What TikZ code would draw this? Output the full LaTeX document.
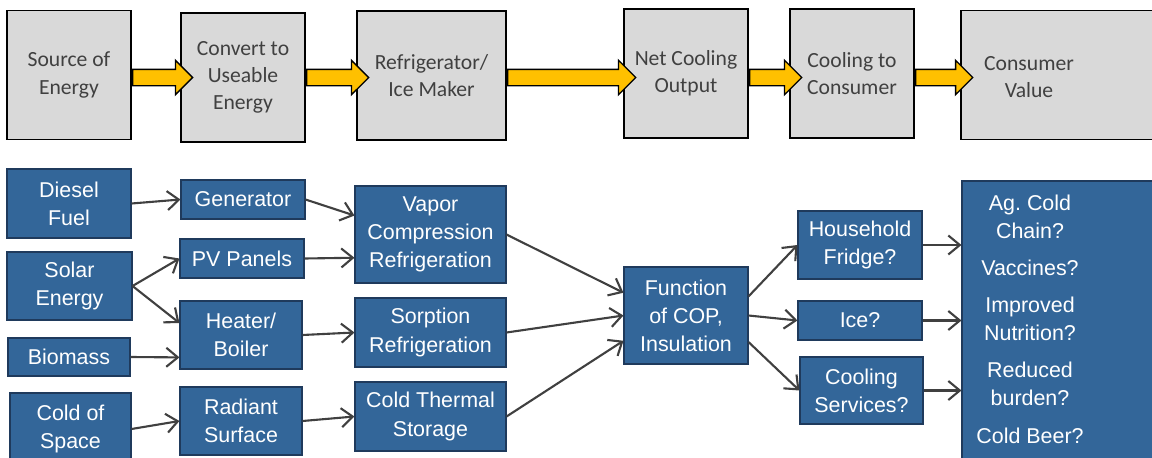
\documentclass[tikz,border=0pt]{standalone}
\usepackage{fontspec}
\setmainfont{Liberation Sans}
\newfontfamily\calibri{Carlito}
\usetikzlibrary{
  arrows.meta,
  calc,
  shapes.arrows
}
\definecolor{cinza}{HTML}{D9D9D9}
\definecolor{texto}{HTML}{404040}
\definecolor{azulcx}{HTML}{336699}
\definecolor{azulbd}{HTML}{1F3A5C}
\definecolor{amarelo}{HTML}{FFC000}
\definecolor{linha}{HTML}{404040}

\begin{document}
\frenchspacing
\begin{tikzpicture}[
    etapa/.style={
    draw=black,
    line width=1.1pt,
    fill=cinza,
    text=texto,
    align=center,
    inner sep=0pt,
    minimum width=2.48cm,
    minimum height=2.58cm,
    font=\calibri\fontsize{12.3}{15.5}\selectfont
    },
    bloco/.style={
    draw=azulbd,
    line width=0.6pt,
    fill=azulcx,
    text=white,
    align=center,
    inner sep=0pt,
    minimum width=2.48cm,
    font=\fontsize{12.2}{16}\selectfont
    },
    flecha/.style={
    single arrow,
    draw=black,
    line width=0.8pt,
    fill=amarelo,
    inner xsep=0pt,
    inner ysep=0.15cm,
    single arrow head extend=0.18cm,
    single arrow head indent=0pt
    },
    seta/.style={-{Straight Barb[length=2.3mm,width=3.8mm]},line width=1.2pt,draw=linha}
    ]
    
    \clip (0,0) rectangle (23.04,9.14);
    
    % etapas
    \node[etapa] (source) at (1.38,7.64)
    {Source of\\Energy};
    
    \node[etapa] (convert) at (4.86,7.59)
    {Convert to\\Useable\\Energy};
    
    \node[etapa, minimum width=2.98cm] (refrig) at (8.63,7.63)
    {Refrigerator/\\Ice Maker};
    
    \node[etapa] (netcool) at (13.72,7.67)
    {Net Cooling\\Output};
    
    \node[etapa] (tocons) at (17.04,7.67)
    {Cooling to\\Consumer};
    
    \node[etapa, minimum width=3.98cm] (consval) at (21.21,7.64) {};
    \node[text=texto, align=center, font=\calibri\fontsize{12.3}{15.5}\selectfont]
    (consvaltxt) at (20.58,7.6) {Consumer\\Value};
    
    \foreach \a/\b in {source/convert, convert/refrig, refrig/netcool, netcool/tocons, tocons/consval}
    \path let \p1=(\a.east), \p2=(\b.west) in
    node[flecha, anchor=tail, minimum height={\x2-\x1+0.24cm}] at (\x1,7.59) {};
    
    % fontes
    \node[bloco, minimum height=1.38cm] (diesel) at (1.38,5.07)
    {Diesel\\Fuel};
    
    \node[bloco, minimum width=2.50cm, minimum height=1.36cm] (solar) at (1.39,3.42)
    {Solar\\Energy};
    
    \node[bloco, minimum width=2.44cm, minimum height=0.76cm] (biomass) at (1.38,2.00)
    {Biomass};
    
    \node[bloco, minimum width=2.42cm, minimum height=1.44cm] (space) at (1.41,0.56)
    {Cold of\\Space};
    
    % conversao
    \node[bloco, minimum height=0.78cm] (gen) at (4.86,5.15)
    {Generator};
    
    \node[bloco, minimum height=0.78cm] (pv) at (4.84,3.97)
    {PV Panels};
    
    \node[bloco, minimum width=2.44cm, minimum height=1.36cm] (heater) at (4.82,2.44)
    {Heater/\\Boiler};
    
    \node[bloco, minimum width=2.44cm, minimum height=1.36cm] (radiant) at (4.82,0.72)
    {Radiant\\Surface};
    
    % refrigeracao
    \node[bloco, minimum width=3.02cm, minimum height=1.94cm] (vapor) at (8.61,4.45)
    {Vapor\\Compression\\Refrigeration};
    
    \node[bloco, minimum width=3.02cm, minimum height=1.38cm] (sorption) at (8.61,2.49)
    {Sorption\\Refrigeration};
    
    \node[bloco, minimum width=3.02cm, minimum height=1.38cm] (storage) at (8.61,0.81)
    {Cold Thermal\\Storage};
    
    \node[bloco, minimum height=1.94cm] (cop) at (13.72,2.83)
    {Function\\of COP,\\Insulation};
    
    % consumidor
    \node[bloco, minimum height=1.36cm] (fridge) at (17.20,4.24)
    {Household\\Fridge?};
    
    \node[bloco, minimum height=0.78cm] (ice) at (17.20,2.73)
    {Ice?};
    
    \node[bloco, minimum width=2.46cm, minimum height=1.34cm] (services) at (17.23,1.33)
    {Cooling\\Services?};
    
    \node[bloco, minimum width=3.96cm, minimum height=5.78cm] (value) at (21.22,2.63) {};
    \node[text=white, align=center, font=\fontsize{12.2}{16}\selectfont] (valuetxt) at (20.60,2.76)
    {Ag. Cold\\Chain?\\[0.18cm]Vaccines?\\[0.18cm]Improved\\Nutrition?\\[0.18cm]Reduced\\burden?\\[0.18cm]Cold Beer?};
    
    \draw[seta] (diesel.east)--(gen.west);
    \draw[seta] (solar.east)--(pv.west);
    \draw[seta] (solar.east)--(heater.169);
    \draw[seta] (biomass.east)--(heater.200);
    \draw[seta] (space.east)--(radiant.west);
    
    \draw[seta] (gen.east)--(vapor.166);
    \draw[seta] (pv.east)--(vapor.197);
    \draw[seta] (heater.east)--(sorption.west);
    \draw[seta] (radiant.east)--(storage.west);
    
    \draw[seta] (vapor.east)--(cop.160);
    \draw[seta] (sorption.east)--(cop.west);
    \draw[seta] (storage.east)--(cop.202);
    
    \draw[seta] (cop.17)--(fridge.west);
    \draw[seta] (cop.east)--(ice.west);
    \draw[seta] (cop.-23)--(services.west);
    
    \draw[seta] (fridge.east)--(fridge.east -| value.west);
    \draw[seta] (ice.east)--(ice.east -| value.west);
    \draw[seta] (services.east)--(services.east -| value.west);
    
\end{tikzpicture}
\end{document}
